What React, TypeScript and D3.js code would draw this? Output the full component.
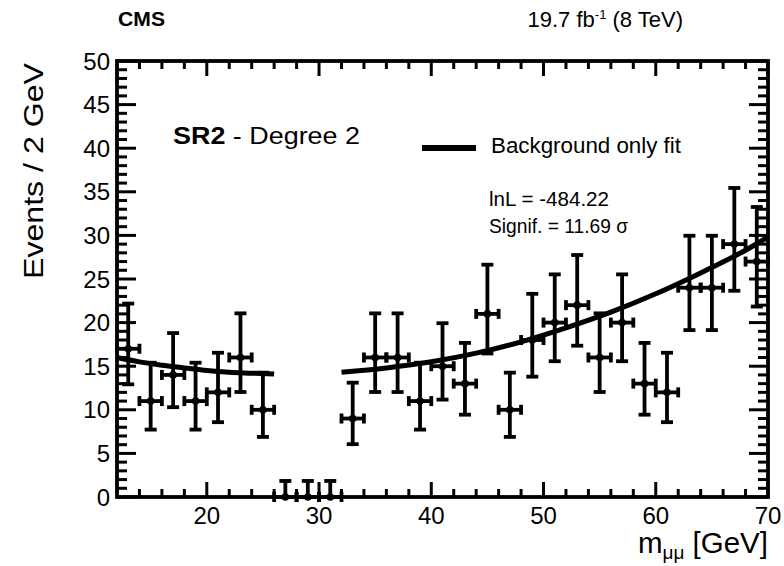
import React from "react";
import * as d3 from "d3";

// Bin centres (GeV) and observed event counts
const binCenters = [13, 15, 17, 19, 21, 23, 25, 27, 29, 31, 33, 35, 37, 39, 41, 43, 45, 47, 49, 51, 53, 55, 57, 59, 61, 63, 65, 67, 69];
const counts = [17, 11, 14, 11, 12, 16, 10, 0, 0, 0, 9, 16, 16, 11, 15, 13, 21, 10, 18, 20, 22, 16, 20, 13, 12, 24, 24, 29, 27];
const errLow = [4.08, 3.27, 3.70, 3.27, 3.42, 3.96, 3.11, 0, 0, 0, 2.94, 3.96, 3.96, 3.27, 3.83, 3.56, 4.54, 3.11, 4.20, 4.43, 4.65, 3.96, 4.43, 3.56, 3.42, 4.86, 4.86, 5.35, 5.16];
const errHigh = [5.18, 4.40, 4.80, 4.40, 4.54, 5.06, 4.26, 1.84, 1.84, 1.84, 4.11, 5.06, 5.06, 4.40, 4.93, 4.67, 5.64, 4.26, 5.30, 5.53, 5.75, 5.06, 5.53, 4.67, 4.54, 5.96, 5.96, 6.44, 6.26];
const binHalfWidth = 1;

// Background-only fit, two sidebands
const fitLowX = [12, 14, 16, 18, 20, 22, 24, 26];
const fitLowY = [16.0, 15.5, 15.1, 14.8, 14.5, 14.3, 14.2, 14.1];
const fitHighX = [32, 36, 40, 44, 48, 52, 56, 60, 64, 68, 70];
const fitHighY = [14.3, 14.8, 15.5, 16.5, 17.8, 19.4, 21.2, 23.3, 25.7, 28.3, 29.8];

const xDomain = [12, 70];
const yDomain = [0, 50];
const xMajorTicks = [20, 30, 40, 50, 60, 70];
const yMajorTicks = [0, 5, 10, 15, 20, 25, 30, 35, 40, 45, 50];

const FONT = "'Liberation Sans', Arial, Helvetica, sans-serif";

export default function App() {
  const W = 784, H = 566;
  const L = 117, R = 768, T = 61, B = 497;
  const x = d3.scaleLinear().domain(xDomain).range([L, R]);
  const y = d3.scaleLinear().domain(yDomain).range([B, T]);

  const xMinor = d3.range(14, 70, 2).filter((v) => v % 10 !== 0);
  const yMinor = d3.range(1, 50, 1).filter((v) => v % 5 !== 0);

  const mk = (xs: number[], ys: number[]) =>
    d3.line<[number, number]>().x((d) => x(d[0])).y((d) => y(d[1])).curve(d3.curveMonotoneX)(
      xs.map((v, i) => [v, ys[i]] as [number, number])
    ) || "";

  const majX = 15, minX = 8, majY = 19, minY = 10;
  const tickW = 3;
  const cap = 6;

  return (
    <svg width={W} height={H} style={{ position: "absolute", left: 0, top: 0, background: "#fff" }} fontFamily={FONT}>
      <rect x={0} y={0} width={W} height={H} fill="#fff" />
      {/* header */}
      <text x={118} y={26} fontSize={19.5} fontWeight="bold" textLength={47} lengthAdjust="spacingAndGlyphs">CMS</text>
      <text x={683} y={27} fontSize={22} textAnchor="end">
        19.7 fb<tspan fontSize={13} dy={-8}>-1</tspan>
        <tspan dy={8}> (8 TeV)</tspan>
      </text>

      {/* ticks */}
      <g stroke="#000" strokeWidth={tickW}>
        {xMajorTicks.map((v) => (
          <g key={"xM" + v}>
            <line x1={x(v)} x2={x(v)} y1={B} y2={B - majX} />
            <line x1={x(v)} x2={x(v)} y1={T} y2={T + majX} />
          </g>
        ))}
        {xMinor.map((v) => (
          <g key={"xm" + v}>
            <line x1={x(v)} x2={x(v)} y1={B} y2={B - minX} />
            <line x1={x(v)} x2={x(v)} y1={T} y2={T + minX} />
          </g>
        ))}
        {yMajorTicks.map((v) => (
          <g key={"yM" + v}>
            <line x1={L} x2={L + majY} y1={y(v)} y2={y(v)} />
            <line x1={R} x2={R - majY} y1={y(v)} y2={y(v)} />
          </g>
        ))}
        {yMinor.map((v) => (
          <g key={"ym" + v}>
            <line x1={L} x2={L + minY} y1={y(v)} y2={y(v)} />
            <line x1={R} x2={R - minY} y1={y(v)} y2={y(v)} />
          </g>
        ))}
      </g>

      {/* fit */}
      <path d={mk(fitLowX, fitLowY)} fill="none" stroke="#000" strokeWidth={5} />
      <path d={mk(fitHighX, fitHighY)} fill="none" stroke="#000" strokeWidth={5} />

      {/* data */}
      <g stroke="#000" strokeWidth={3.8} fill="#000">
        {binCenters.map((c, i) => {
          const px = x(c);
          const py = y(counts[i]);
          const yl = y(counts[i] - errLow[i]);
          const yh = y(counts[i] + errHigh[i]);
          const xl = x(c - binHalfWidth);
          const xr = x(c + binHalfWidth);
          return (
            <g key={"d" + i}>
              <line x1={px} x2={px} y1={yh} y2={yl} />
              {errLow[i] > 0 && <line x1={px - cap} x2={px + cap} y1={yl} y2={yl} />}
              <line x1={px - cap} x2={px + cap} y1={yh} y2={yh} />
              <line x1={xl} x2={xr} y1={py} y2={py} />
              <line x1={xl} x2={xl} y1={py - 5} y2={py + 5} />
              <line x1={xr} x2={xr} y1={py - 5} y2={py + 5} />
              <circle cx={px} cy={py} r={3.8} stroke="none" />
            </g>
          );
        })}
      </g>

      {/* frame */}
      <rect x={L} y={T} width={R - L} height={B - T} fill="none" stroke="#000" strokeWidth={3.8} />

      {/* tick labels */}
      <g fontSize={24} fill="#000">
        {yMajorTicks.map((v) => (
          <text key={"yl" + v} x={110} y={y(v) + 8.5} textAnchor="end">{v}</text>
        ))}
        {xMajorTicks.map((v) => (
          <text key={"xl" + v} x={x(v)} y={524} textAnchor="middle">{v}</text>
        ))}
      </g>

      {/* axis titles */}
      <text transform={`translate(43,${(62 + 280) / 2}) rotate(-90)`} fontSize={28} textAnchor="middle" textLength={216} lengthAdjust="spacingAndGlyphs">Events / 2 GeV</text>
      <text x={768} y={553} fontSize={29.5} textAnchor="end">
        m<tspan fontSize={19} dy={6}>μμ</tspan>
        <tspan dy={-6}> [GeV]</tspan>
      </text>

      {/* annotations */}
      <text x={173} y={144} fontSize={23.5} textLength={187} lengthAdjust="spacingAndGlyphs">
        <tspan fontWeight="bold">SR2</tspan> - Degree 2
      </text>
      <line x1={422} x2={476} y1={148} y2={148} stroke="#000" strokeWidth={6} />
      <text x={491} y={153} fontSize={22} textLength={190} lengthAdjust="spacingAndGlyphs">Background only fit</text>
      <text x={489} y={206} fontSize={20} textLength={120} lengthAdjust="spacingAndGlyphs">lnL = -484.22</text>
      <text x={489} y={233} fontSize={20} textLength={139} lengthAdjust="spacingAndGlyphs">Signif. = 11.69 σ</text>
    </svg>
  );
}
